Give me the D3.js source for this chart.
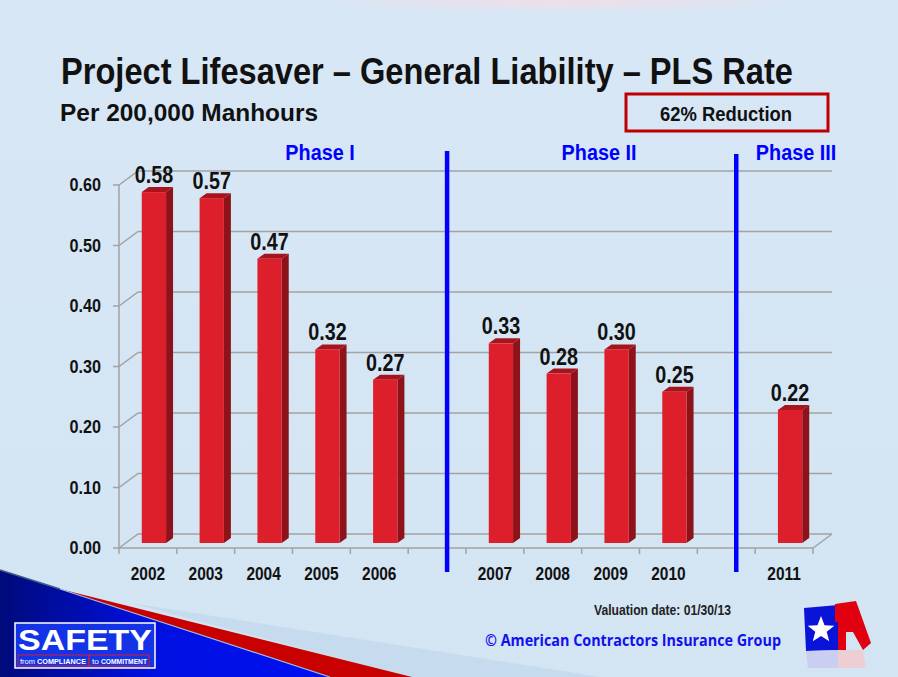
<!DOCTYPE html>
<html>
<head>
<meta charset="utf-8">
<script src="https://cdn.jsdelivr.net/npm/d3@7"></script>
<style>
  body { margin: 0; background: #fff; }
  svg { display: block; }
  .narrow { font-family: "Liberation Sans", Arial, sans-serif; font-weight: bold; }
</style>
</head>
<body>
<svg id="chart"></svg>
<script>
// data
const years = ["2002", "2003", "2004", "2005", "2006", "gap1", "2007", "2008", "2009", "2010", "gap2", "2011"];
const barValues = [0.58, 0.57, 0.47, 0.32, 0.27, null, 0.33, 0.28, 0.32, 0.25, null, 0.22];
const valueLabels = ["0.58", "0.57", "0.47", "0.32", "0.27", "", "0.33", "0.28", "0.30", "0.25", "", "0.22"];
const yTicks = [0, 0.1, 0.2, 0.3, 0.4, 0.5, 0.6];
const phases = [
    { name: "Phase I", x: 320 },
    { name: "Phase II", x: 599 },
    { name: "Phase III", x: 796 }
];

const width = 898;
const height = 677;
const depthX = 19, depthY = -14;   // back wall offset
const barDX = 6, barDY = -5;       // bars sit in the middle of the floor
const sideX = 7, sideY = -5;       // bar depth

let svg = d3.select("#chart").attr("width", width).attr("height", height);

// narrow bold text (no Arial Narrow here, so squeeze Liberation Sans)
function narrowText(g, x, y, str, size, anchor, color, squeeze) {
    return g.append("text").attr("class", "narrow")
        .attr("transform", `translate(${x},${y}) scale(${squeeze},1)`)
        .attr("text-anchor", anchor).attr("font-size", size).attr("fill", color)
        .text(str);
}

// background
let defs = svg.append("defs");
let bg = defs.append("linearGradient").attr("id", "bg").attr("x1", 0).attr("y1", 0).attr("x2", 0).attr("y2", 1);
bg.append("stop").attr("offset", "0%").attr("stop-color", "#d7e7f6");
bg.append("stop").attr("offset", "100%").attr("stop-color", "#d3e4f3");
svg.append("rect").attr("width", width).attr("height", height).attr("fill", "url(#bg)");

let pink = defs.append("radialGradient").attr("id", "pink");
pink.append("stop").attr("offset", "0%").attr("stop-color", "#f4dde6").attr("stop-opacity", 0.9);
pink.append("stop").attr("offset", "100%").attr("stop-color", "#f4dde6").attr("stop-opacity", 0);
svg.append("ellipse").attr("cx", 560).attr("cy", 0).attr("rx", 260).attr("ry", 14).attr("fill", "url(#pink)");

// swoosh bottom-left
let blue = defs.append("linearGradient").attr("id", "blueGrad").attr("x1", 0).attr("y1", 0).attr("x2", 1).attr("y2", 0);
blue.append("stop").attr("offset", "0%").attr("stop-color", "#000a7a");
blue.append("stop").attr("offset", "45%").attr("stop-color", "#0010e0");
blue.append("stop").attr("offset", "100%").attr("stop-color", "#0010f0");
svg.append("path").attr("d", "M130,603 L600,677 L410,677 Z").attr("fill", "#c0d7ea").attr("opacity", 0.7);
svg.append("path").attr("d", "M60,589 L412,677 L330,677 Z").attr("fill", "#c80000");
svg.append("path").attr("d", "M0,570 L60,589 L330,677 L0,677 Z").attr("fill", "url(#blueGrad)");
svg.append("path").attr("d", "M60,589 L330,677").attr("stroke", "#9fb8d8").attr("stroke-width", 1.2);
svg.append("path").attr("d", "M0,570 L60,589").attr("stroke", "#40608a").attr("stroke-width", 1.5);

// scales
let scX = d3.scaleBand().domain(years).range([119, 813]).padding(0);
let scY = d3.scaleLinear().domain([0, 0.6]).range([548, 185]);
let barW = scX.bandwidth() * 0.42;

// grid / walls
let grid = svg.append("g").attr("stroke", "#a3a3a3").attr("stroke-width", 1.5).attr("fill", "none");
yTicks.forEach((t) => {
    let y = scY(t);
    grid.append("path").attr("d", `M113,${y} L119,${y} L${119 + depthX},${y + depthY} L${813 + depthX},${y + depthY}`);
});
grid.append("path").attr("d", `M119,${scY(0.6)} L119,${scY(0)} L813,${scY(0)} L${813 + depthX},${scY(0) + depthY}`);
years.forEach((d) => {
    grid.append("line").attr("x1", scX(d)).attr("x2", scX(d)).attr("y1", scY(0)).attr("y2", scY(0) + 6);
});
grid.append("line").attr("x1", 813).attr("x2", 813).attr("y1", scY(0)).attr("y2", scY(0) + 6);

// y labels
let yLab = svg.append("g");
yTicks.forEach((t) => narrowText(yLab, 101, scY(t) + 6, t.toFixed(2), 18, "end", "#111", 0.9));

// x labels
let xLab = svg.append("g");
years.filter((d) => !d.startsWith("gap")).forEach((d) => {
    narrowText(xLab, scX(d) + scX.bandwidth() / 2, 580, d, 18, "middle", "#111", 0.86);
});

// bars
let bars = svg.append("g");
years.forEach((d, i) => {
    let v = barValues[i];
    if (v === null) return;
    let x0 = scX(d) + (scX.bandwidth() - barW) / 2 + barDX;
    let x1 = x0 + barW;
    let yb = scY(0) + barDY;
    let yt = scY(v) + barDY;
    bars.append("path").attr("fill", "#8e1219")
        .attr("d", `M${x1},${yb} L${x1},${yt} L${x1 + sideX},${yt + sideY} L${x1 + sideX},${yb + sideY} Z`);
    bars.append("path").attr("fill", "#a8141c")
        .attr("d", `M${x0},${yt} L${x1},${yt} L${x1 + sideX},${yt + sideY} L${x0 + sideX},${yt + sideY} Z`);
    bars.append("rect").attr("x", x0).attr("y", yt).attr("width", barW).attr("height", yb - yt).attr("fill", "#dd1f2c");
    narrowText(bars, x0 + barW / 2, yt - 9, valueLabels[i], 23, "middle", "#111", 0.86);
});

// phase dividers
let gapX = (d) => scX(d) + scX.bandwidth() / 2 + 10;
svg.append("line").attr("x1", gapX("gap1")).attr("x2", gapX("gap1")).attr("y1", 151).attr("y2", 572)
    .attr("stroke", "#0000ff").attr("stroke-width", 4.5);
svg.append("line").attr("x1", gapX("gap2")).attr("x2", gapX("gap2")).attr("y1", 154).attr("y2", 572)
    .attr("stroke", "#0000ff").attr("stroke-width", 4.5);
let phaseG = svg.append("g");
phases.forEach((p) => narrowText(phaseG, p.x, 160, p.name, 22, "middle", "#0000ff", 0.9));

// titles
svg.append("text").attr("class", "narrow").attr("x", 61).attr("y", 84)
    .attr("font-size", 37).attr("fill", "#111")
    .attr("textLength", 732).attr("lengthAdjust", "spacingAndGlyphs")
    .text("Project Lifesaver – General Liability – PLS Rate");
svg.append("text").attr("class", "narrow").attr("x", 60).attr("y", 121)
    .attr("font-size", 24).attr("fill", "#111")
    .attr("textLength", 258).attr("lengthAdjust", "spacingAndGlyphs")
    .text("Per 200,000 Manhours");

svg.append("rect").attr("x", 626).attr("y", 94).attr("width", 202).attr("height", 37)
    .attr("fill", "none").attr("stroke", "#c00000").attr("stroke-width", 3);
svg.append("text").attr("class", "narrow").attr("x", 660).attr("y", 121)
    .attr("font-size", 21).attr("fill", "#111")
    .attr("textLength", 132).attr("lengthAdjust", "spacingAndGlyphs")
    .text("62% Reduction");

// footer
svg.append("text").attr("class", "narrow").attr("x", 594).attr("y", 615)
    .attr("font-size", 15).attr("fill", "#222")
    .attr("textLength", 137).attr("lengthAdjust", "spacingAndGlyphs")
    .text("Valuation date: 01/30/13");
svg.append("text").attr("x", 485).attr("y", 646)
    .attr("font-family", "'Open Sans', 'DejaVu Sans', sans-serif").attr("font-weight", "bold")
    .attr("font-size", 16).attr("fill", "#1010f0")
    .attr("textLength", 296).attr("lengthAdjust", "spacingAndGlyphs")
    .text("© American Contractors Insurance Group");

// SAFETY logo
let logo = svg.append("g");
logo.append("rect").attr("x", 15).attr("y", 623).attr("width", 140).attr("height", 45)
    .attr("fill", "#1433e6").attr("stroke", "#ffffff").attr("stroke-width", 1.5);
logo.append("text").attr("x", 85).attr("y", 650).attr("text-anchor", "middle")
    .attr("font-family", "'Liberation Sans', Arial, sans-serif").attr("font-weight", "bold")
    .attr("font-size", 30).attr("fill", "#ffffff")
    .attr("textLength", 134).attr("lengthAdjust", "spacingAndGlyphs").text("SAFETY");
logo.append("rect").attr("x", 18).attr("y", 655).attr("width", 71).attr("height", 11)
    .attr("fill", "none").attr("stroke", "#d02030").attr("stroke-width", 1);
logo.append("rect").attr("x", 89).attr("y", 655).attr("width", 60).attr("height", 11)
    .attr("fill", "none").attr("stroke", "#d02030").attr("stroke-width", 1);
let small = [
    { t: "from", x: 20, w: 15, b: "normal" },
    { t: "COMPLIANCE", x: 37, w: 49, b: "bold" },
    { t: "to", x: 92, w: 7, b: "normal" },
    { t: "COMMITMENT", x: 101, w: 46, b: "bold" }
];
small.forEach((s) => {
    logo.append("text").attr("x", s.x).attr("y", 664)
        .attr("font-family", "'Liberation Sans', Arial, sans-serif").attr("font-weight", s.b)
        .attr("font-size", 7.5).attr("fill", "#ffffff")
        .attr("textLength", s.w).attr("lengthAdjust", "spacingAndGlyphs").text(s.t);
});

// ACIG logo
let acig = svg.append("g");
acig.append("path").attr("d", "M804,608 L838,605 L838,650 L806,651 Z").attr("fill", "#0a14d8");
acig.append("path")
    .attr("d", "M835,604 L856,601 L871,643 L863,650 L853,632 L846,632 L846,650 L838,650 L838,622 L835,622 Z")
    .attr("fill", "#e00010");
let star = d3.range(10).map((k) => {
    let a = -Math.PI / 2 + k * Math.PI / 5;
    let r = k % 2 === 0 ? 14 : 6;
    return [821 + r * Math.cos(a), 630 + r * Math.sin(a)];
});
acig.append("path").attr("d", "M" + star.join("L") + "Z").attr("fill", "#ffffff");
acig.append("path").attr("d", "M806,651 L838,650 L838,668 L808,668 Z").attr("fill", "#c8c8f0").attr("opacity", 0.8);
acig.append("path").attr("d", "M838,650 L863,650 L866,668 L838,668 Z").attr("fill", "#f3c8cc").attr("opacity", 0.8);
</script>
</body>
</html>
